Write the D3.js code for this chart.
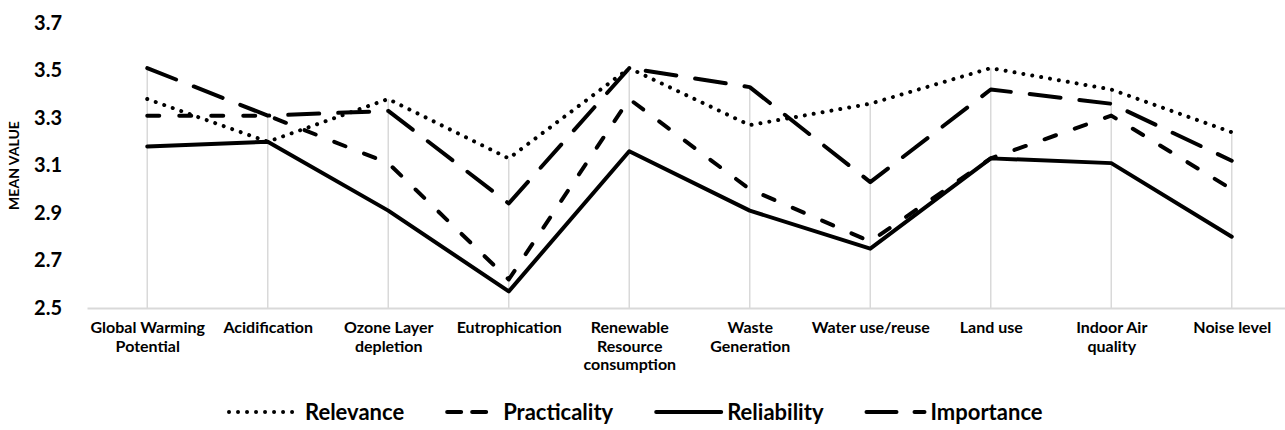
<!DOCTYPE html>
<html>
<head>
<meta charset="utf-8">
<script src="https://cdn.jsdelivr.net/npm/d3@7"></script>
<style>
  body { margin: 0; background: #fff; }
  svg { display: block; }
  text { font-family: Lato, "Noto Sans", sans-serif; font-weight: 700; fill: #000; }
</style>
</head>
<body>
<svg id="chart" width="1285" height="430"></svg>
<script>
// Impact categories (line breaks mark where each label wraps)
const categories = [
  "Global Warming\nPotential",
  "Acidification",
  "Ozone Layer\ndepletion",
  "Eutrophication",
  "Renewable\nResource\nconsumption",
  "Waste\nGeneration",
  "Water use/reuse",
  "Land use",
  "Indoor Air\nquality",
  "Noise level"
];

// Mean value of each criterion per category
const relevance    = [3.38, 3.20, 3.38, 3.13, 3.51, 3.27, 3.36, 3.51, 3.42, 3.24];
const practicality = [3.31, 3.31, 3.11, 2.62, 3.38, 3.00, 2.78, 3.13, 3.31, 3.00];
const reliability  = [3.18, 3.20, 2.91, 2.57, 3.16, 2.91, 2.75, 3.13, 3.11, 2.80];
const importance   = [3.51, 3.31, 3.33, 2.94, 3.51, 3.43, 3.03, 3.42, 3.36, 3.12];

const seriesNames = ["Relevance", "Practicality", "Reliability", "Importance"];
const yTicks = [2.5, 2.7, 2.9, 3.1, 3.3, 3.5, 3.7];
const yTitle = "MEAN VALUE";

const seriesValues = [relevance, practicality, reliability, importance];

// Stroke styles per series: dash pattern in the chart, in the legend, and legend sample length
const styles = [
  { dash: "0.01 9", legendDash: "0.01 9", sample: 74 },
  { dash: "12 20",  legendDash: "14 11",  sample: 54 },
  { dash: null,     legendDash: null,     sample: 69 },
  { dash: "31 19",  legendDash: "30 18",  sample: 62 }
];

const svg = d3.select("#chart");
const baseY = 308;

const x = d3.scalePoint()
  .domain(categories)
  .range([87, 1292])
  .padding(0.5);

const y = d3.scaleLinear()
  .domain([2.5, 3.7])
  .range([baseY, 23]);

// Y axis: labels only
const yAxis = svg.append("g")
  .attr("transform", "translate(62,0)")
  .call(d3.axisLeft(y).tickValues(yTicks).tickFormat(d3.format(".1f")).tickSize(0).tickPadding(0));
yAxis.select(".domain").remove();
yAxis.selectAll("text")
  .attr("font-size", 20)
  .style("font-family", "Lato, 'Noto Sans', sans-serif")
  .style("font-weight", 700)
  .attr("fill", "#000");

// Y axis title
svg.append("text")
  .attr("transform", `translate(19,${(y(2.5) + y(3.7)) / 2}) rotate(-90)`)
  .attr("text-anchor", "middle")
  .attr("font-size", 14)
  .text(yTitle);

// Drop lines from the highest series value down to the axis
const maxPerCat = categories.map((c, i) => d3.max(seriesValues, s => s[i]));
svg.append("g")
  .selectAll("line")
  .data(categories)
  .join("line")
  .attr("x1", d => x(d)).attr("x2", d => x(d))
  .attr("y1", (d, i) => y(maxPerCat[i]))
  .attr("y2", y(2.5))
  .attr("stroke", "#d9d9d9")
  .attr("stroke-width", 1.5);

// X axis with wrapped category labels
const xAxis = svg.append("g")
  .attr("transform", `translate(0,${baseY})`)
  .call(d3.axisBottom(x).tickSize(0).tickSizeOuter(0).tickFormat(""));
xAxis.select(".domain").attr("stroke", "#d9d9d9").attr("stroke-width", 2);
xAxis.selectAll(".tick text").remove();
xAxis.selectAll(".tick").each(function (d) {
  const t = d3.select(this).append("text")
    .attr("text-anchor", "middle")
    .attr("font-size", 16)
    .attr("y", 25);
  d.split("\n").forEach((line, k) => {
    t.append("tspan").attr("x", 0).attr("dy", k === 0 ? 0 : 18.5).text(line);
  });
});

// Series lines
const line = d3.line()
  .x((d, i) => x(categories[i]))
  .y(d => y(d));

svg.append("g")
  .selectAll("path")
  .data(seriesValues)
  .join("path")
  .attr("d", d => line(d))
  .attr("fill", "none")
  .attr("stroke", "#000")
  .attr("stroke-width", 4)
  .attr("stroke-linecap", "round")
  .attr("stroke-linejoin", "round")
  .attr("stroke-dasharray", (d, i) => styles[i].dash);

// Legend
const legendY = 412;
let lx = 227;
const legend = svg.append("g");
seriesNames.forEach((name, i) => {
  const st = styles[i];
  legend.append("line")
    .attr("x1", lx + 2).attr("x2", lx + st.sample - 2)
    .attr("y1", legendY).attr("y2", legendY)
    .attr("stroke", "#000")
    .attr("stroke-width", 4)
    .attr("stroke-linecap", "round")
    .attr("stroke-dasharray", st.legendDash);
  const t = legend.append("text")
    .attr("x", lx + st.sample + 4)
    .attr("y", legendY)
    .attr("dy", "0.35em")
    .attr("font-size", 22)
    .text(name);
  lx += st.sample + 4 + t.node().getComputedTextLength() + 41;
});
</script>
</body>
</html>
